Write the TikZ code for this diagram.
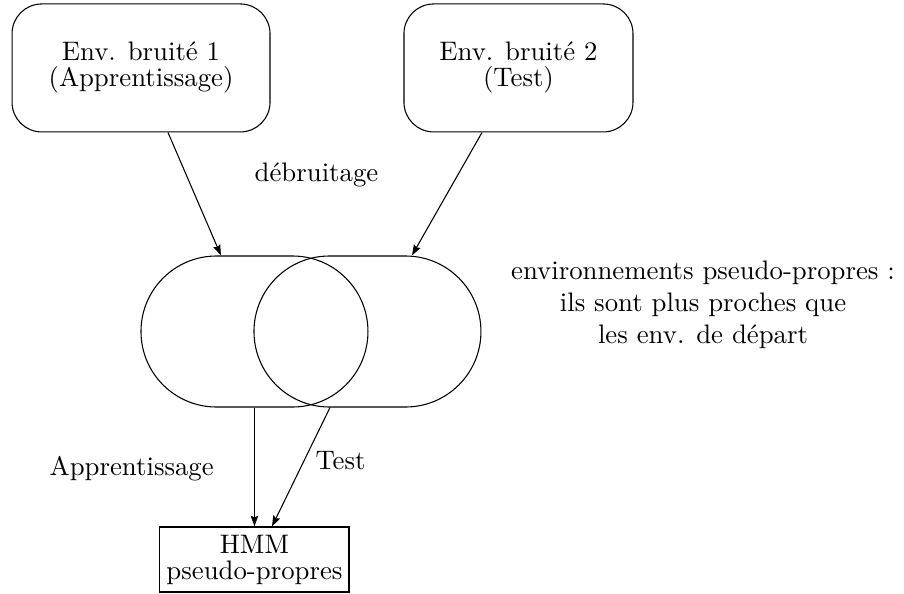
\documentclass[tikz,border=0pt]{standalone}
\usepackage{tikz}
\usetikzlibrary{calc, positioning, arrows.meta, shapes.misc}

\tikzset{
    envbox/.style={draw, rectangle, rounded corners=0.39cm, minimum height=1.68cm,
        align=center, font=\fontsize{10pt}{9.7pt}\selectfont},
    stadium/.style={draw, rectangle, rounded corners=0.99cm, minimum width=2.979cm, minimum height=1.982cm},
    hmmbox/.style={draw, rectangle, minimum width=2.481cm, minimum height=0.853cm,
        inner sep=0pt, align=center, font=\fontsize{10pt}{9.7pt}\selectfont},
    fleche/.style={-{Stealth[length=4pt,width=2.8pt,inset=0.6pt]}}
}

\begin{document}
\begin{tikzpicture}

    \useasboundingbox (0,0) rectangle (11.865,7.796);

    % noisy environments
    \node[envbox, minimum width=3.386cm] (env1) at (1.851,6.904) {Env. bruité 1\\(Apprentissage)};
    \node[envbox, minimum width=3.006cm] (env2) at (6.805,6.904) {Env. bruité 2\\(Test)};

    % pseudo-clean environments
    \node[stadium] (pl) at (3.340,3.445) {};
    \node[stadium] (pr) at (4.823,3.445) {};

    % HMM
    \node[hmmbox] (hmm) at (3.340,0.453) {HMM\\pseudo-propres};

    % denoising
    \draw[fleche] ($(env1.south)+(0.354,0)$) -- ($(pl.north)+(-0.440,0)$);
    \draw[fleche] ($(env2.south)+(-0.479,0)$) -- ($(pr.north)+(0.584,0)$);

    % training and test
    \draw[fleche] (pl.south) -- (hmm.north);
    \draw[fleche] ($(pr.south)+(-0.492,0)$) -- ($(hmm.north)+(0.230,0)$);

    % labels
    \node[anchor=base] (debruit) at (4.154,5.417) {débruitage};
    \node[anchor=base] (appr) at (1.729,1.555) {Apprentissage};
    \node[anchor=base] (test) at (4.469,1.628) {Test};
    \node[align=center] (remarque) at (9.227,3.797)
        {environnements pseudo-propres :\\ils sont plus proches que\\les env. de départ};

\end{tikzpicture}
\end{document}
